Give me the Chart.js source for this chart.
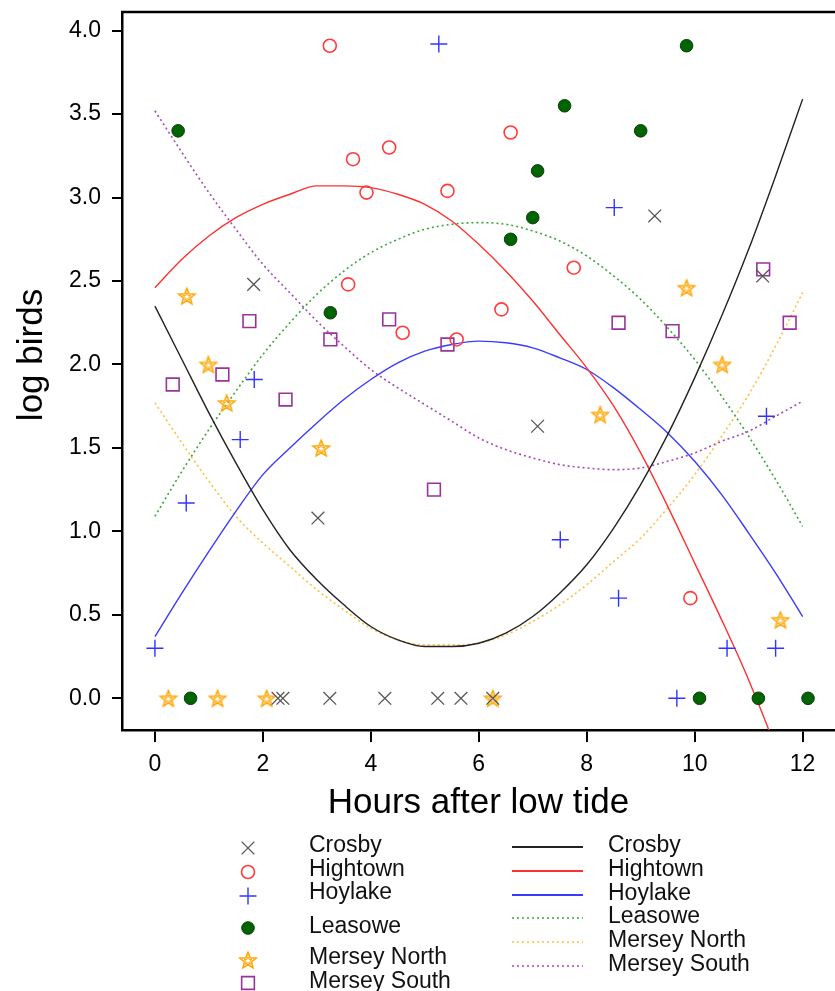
<!DOCTYPE html>
<html>
<head>
<meta charset="utf-8">
<script src="https://cdn.jsdelivr.net/npm/chart.js@4"></script>
<style>
html, body { margin: 0; padding: 0; background: #fff; }
#wrap { width: 835px; height: 991px; }
</style>
</head>
<body>
<div id="wrap"><canvas id="birds" width="835" height="991"></canvas></div>
<script>
// observed counts (log birds) against hours after low tide, one pair of arrays per site
const crosbyHours = [1.83, 3.02, 7.09, 9.26, 11.26, 2.28, 2.37, 3.24, 4.26, 5.24, 5.67, 6.26];
const crosbyBirds = [2.48, 1.08, 1.63, 2.89, 2.53, 0, 0, 0, 0, 0, 0, 0];

const hightownHours = [3.24, 3.67, 4.34, 3.92, 5.42, 6.59, 3.58, 4.59, 5.59, 7.76, 6.42, 9.92];
const hightownBirds = [3.91, 3.23, 3.30, 3.03, 3.04, 3.39, 2.48, 2.19, 2.15, 2.58, 2.33, 0.60];

const hoylakeHours = [5.26, 8.51, 1.84, 1.58, 0.58, 0.0, 11.33, 7.51, 8.59, 10.6, 11.5, 9.67];
const hoylakeBirds = [3.92, 2.94, 1.91, 1.55, 1.17, 0.30, 1.69, 0.95, 0.60, 0.30, 0.30, 0];

const leasoweHours = [0.43, 9.85, 7.59, 9.0, 7.09, 7.0, 6.59, 3.25, 0.66, 10.09, 11.18, 12.1];
const leasoweBirds = [3.40, 3.91, 3.55, 3.40, 3.16, 2.88, 2.75, 2.31, 0, 0, 0, 0];

const merseyNorthHours = [0.59, 0.99, 1.33, 3.08, 9.85, 10.51, 8.25, 11.59, 0.25, 1.16, 2.07, 6.26];
const merseyNorthBirds = [2.41, 2.00, 1.77, 1.50, 2.46, 2.00, 1.70, 0.47, 0, 0, 0, 0];

const merseySouthHours = [0.33, 1.25, 1.75, 2.42, 3.25, 4.34, 5.42, 5.17, 8.59, 9.59, 11.27, 11.76];
const merseySouthBirds = [1.88, 1.94, 2.26, 1.79, 2.15, 2.27, 2.12, 1.25, 2.25, 2.20, 2.57, 2.25];

// fitted curves, every half hour
const fitHours = [0, 0.5, 1, 1.5, 2, 2.5, 3, 3.5, 4, 4.5, 5, 5.5, 6, 6.5, 7, 7.5, 8, 8.5, 9, 9.5, 10, 10.5, 11, 11.5, 12];
const crosbyFit = [2.35, 2.03, 1.71, 1.41, 1.13, 0.89, 0.71, 0.56, 0.43, 0.35, 0.31, 0.31, 0.33, 0.39, 0.49, 0.63, 0.80, 1.02, 1.28, 1.58, 1.92, 2.29, 2.69, 3.13, 3.59];
const hightownFit = [2.46, 2.63, 2.77, 2.88, 2.96, 3.02, 3.07, 3.07, 3.06, 3.02, 2.96, 2.86, 2.72, 2.56, 2.38, 2.18, 1.98, 1.75, 1.47, 1.15, 0.81, 0.47, 0.11, -0.30, -0.80];
const hoylakeFit = [0.37, 0.63, 0.88, 1.12, 1.34, 1.50, 1.65, 1.79, 1.91, 2.01, 2.08, 2.12, 2.14, 2.13, 2.10, 2.04, 1.97, 1.86, 1.73, 1.59, 1.42, 1.22, 0.99, 0.75, 0.49];
const leasoweFit = [1.09, 1.36, 1.61, 1.84, 2.06, 2.25, 2.42, 2.56, 2.67, 2.75, 2.81, 2.84, 2.85, 2.84, 2.80, 2.74, 2.65, 2.53, 2.39, 2.22, 2.03, 1.81, 1.57, 1.31, 1.03];
const merseyNorthFit = [1.77, 1.53, 1.30, 1.09, 0.93, 0.79, 0.65, 0.53, 0.42, 0.35, 0.32, 0.32, 0.33, 0.38, 0.46, 0.56, 0.68, 0.82, 0.96, 1.14, 1.34, 1.57, 1.82, 2.11, 2.43];
const merseySouthFit = [3.52, 3.27, 3.03, 2.81, 2.60, 2.43, 2.26, 2.11, 1.97, 1.86, 1.76, 1.66, 1.56, 1.49, 1.44, 1.40, 1.38, 1.37, 1.38, 1.42, 1.47, 1.54, 1.60, 1.69, 1.78];

const FONT = "'Liberation Sans', Arial, sans-serif";

function pts(xs, ys) {
    return xs.map((x, i) => ({x: x, y: ys[i]}));
}

function starImage(color) {
    let c = document.createElement("canvas");
    c.width = 22;
    c.height = 22;
    let g = c.getContext("2d");
    g.strokeStyle = color;
    g.lineJoin = "miter";
    let drawStar = (outer, inner, lw) => {
        g.lineWidth = lw;
        g.beginPath();
        for (let i = 0; i < 10; i++) {
            let r = i % 2 === 0 ? outer : inner;
            let a = -Math.PI / 2 + i * Math.PI / 5;
            g.lineTo(11 + r * Math.cos(a), 11.8 + r * Math.sin(a));
        }
        g.closePath();
        g.stroke();
    };
    drawStar(8.6, 3.7, 1.5);
    drawStar(4.2, 1.8, 1.0);
    return c;
}

const star = starImage("#ffa500");

function markers(label, xs, ys, style, radius, border, fill, lw) {
    return {
        label: label,
        data: pts(xs, ys),
        showLine: false,
        pointStyle: style,
        pointRadius: radius,
        pointHoverRadius: radius,
        pointBorderColor: border,
        pointBackgroundColor: fill,
        pointBorderWidth: lw
    };
}

function curve(label, ys, color, dashed) {
    return {
        label: label,
        data: pts(fitHours, ys),
        showLine: true,
        pointRadius: 0,
        pointHoverRadius: 0,
        borderColor: color,
        borderWidth: dashed ? 1.6 : 1.4,
        borderDash: dashed ? [2, 3] : [],
        cubicInterpolationMode: "monotone",
        fill: false
    };
}

const pointSets = [
    markers("Crosby", crosbyHours, crosbyBirds, "crossRot", 9, "#555555", "#555555", 1.3),
    markers("Hightown", hightownHours, hightownBirds, "circle", 6.5, "#ff3b3b", "rgba(255,255,255,0)", 1.6),
    markers("Hoylake", hoylakeHours, hoylakeBirds, "cross", 8.5, "#3333ff", "#3333ff", 1.4),
    markers("Leasowe", leasoweHours, leasoweBirds, "circle", 6.3, "#0d3d0d", "#006400", 1),
    markers("Mersey North", merseyNorthHours, merseyNorthBirds, star, 9, "#ffa500", "#ffa500", 1.5),
    markers("Mersey South", merseySouthHours, merseySouthBirds, "rect", 9, "#993399", "rgba(255,255,255,0)", 1.6)
];

const curveSets = [
    curve("Crosby", crosbyFit, "#222222", false),
    curve("Hightown", hightownFit, "#ff3030", false),
    curve("Hoylake", hoylakeFit, "#3a3aff", false),
    curve("Leasowe", leasoweFit, "#3aa63a", true),
    curve("Mersey North", merseyNorthFit, "#ffbe3c", true),
    curve("Mersey South", merseySouthFit, "#aa44bb", true)
];

// frame top, axis titles and the two-column legend
const extras = {
    id: "extras",
    afterDraw(chart) {
        const ctx = chart.ctx;
        const area = chart.chartArea;
        ctx.save();

        ctx.strokeStyle = "#000";
        ctx.lineWidth = 2.5;
        ctx.beginPath();
        ctx.moveTo(area.left - 1, area.top);
        ctx.lineTo(chart.width, area.top);
        ctx.stroke();

        ctx.fillStyle = "#000";
        ctx.textAlign = "center";
        ctx.textBaseline = "middle";
        ctx.font = "35px " + FONT;
        ctx.fillText("Hours after low tide", (area.left + area.right) / 2, 803);
        ctx.save();
        ctx.translate(32, 355);
        ctx.rotate(-Math.PI / 2);
        ctx.fillText("log birds", 0, 0);
        ctx.restore();

        ctx.font = "23px " + FONT;
        ctx.textAlign = "left";
        ctx.fillStyle = "#111";

        const markY = [848, 872, 896, 928, 960, 983];
        const markTextY = [846, 870, 893, 927, 958, 982];
        pointSets.forEach((ds, i) => {
            ctx.save();
            ctx.strokeStyle = ds.pointBorderColor;
            ctx.fillStyle = ds.pointBackgroundColor;
            ctx.lineWidth = ds.pointBorderWidth;
            Chart.helpers.drawPoint(ctx, {
                pointStyle: ds.pointStyle,
                radius: ds.pointRadius,
                rotation: 0,
                borderWidth: ds.pointBorderWidth
            }, 248, markY[i]);
            ctx.restore();
            ctx.fillText(ds.label, 309, markTextY[i]);
        });

        const lineY = [847, 871, 895, 918, 942, 966];
        curveSets.forEach((ds, i) => {
            ctx.save();
            ctx.strokeStyle = ds.borderColor;
            ctx.lineWidth = ds.borderDash.length ? 1.6 : 2;
            ctx.setLineDash(ds.borderDash);
            ctx.beginPath();
            ctx.moveTo(512, lineY[i]);
            ctx.lineTo(583, lineY[i]);
            ctx.stroke();
            ctx.restore();
            ctx.fillText(ds.label, 608, lineY[i] - 1);
        });

        ctx.restore();
    }
};

new Chart(document.getElementById("birds"), {
    type: "scatter",
    data: {
        datasets: pointSets.concat(curveSets)
    },
    options: {
        responsive: false,
        animation: false,
        devicePixelRatio: 1,
        layout: {
            autoPadding: false,
            padding: {top: 12, left: 0, right: 0, bottom: 0}
        },
        plugins: {
            legend: {display: false},
            tooltip: {enabled: false}
        },
        scales: {
            x: {
                type: "linear",
                min: -0.61,
                max: 12.6,
                afterFit: (s) => {
                    s.height = 261;
                    s.paddingLeft = 0;
                    s.paddingRight = 0;
                },
                grid: {drawOnChartArea: false, drawTicks: true, tickLength: 12, color: "#000", lineWidth: 2},
                border: {display: true, color: "#000", width: 2.5},
                ticks: {
                    stepSize: 2,
                    includeBounds: false,
                    color: "#000",
                    padding: 9,
                    font: {family: FONT, size: 23},
                    callback: (v) => v
                }
            },
            y: {
                min: -0.19,
                max: 4.112,
                afterFit: (s) => {
                    s.width = 122;
                    s.paddingTop = 0;
                    s.paddingBottom = 0;
                },
                grid: {drawOnChartArea: false, drawTicks: true, tickLength: 10, color: "#000", lineWidth: 2},
                border: {display: true, color: "#000", width: 2.5},
                ticks: {
                    stepSize: 0.5,
                    includeBounds: false,
                    color: "#000",
                    padding: 11,
                    font: {family: FONT, size: 23},
                    callback: (v) => v.toFixed(1)
                }
            }
        }
    },
    plugins: [extras]
});
</script>
</body>
</html>
